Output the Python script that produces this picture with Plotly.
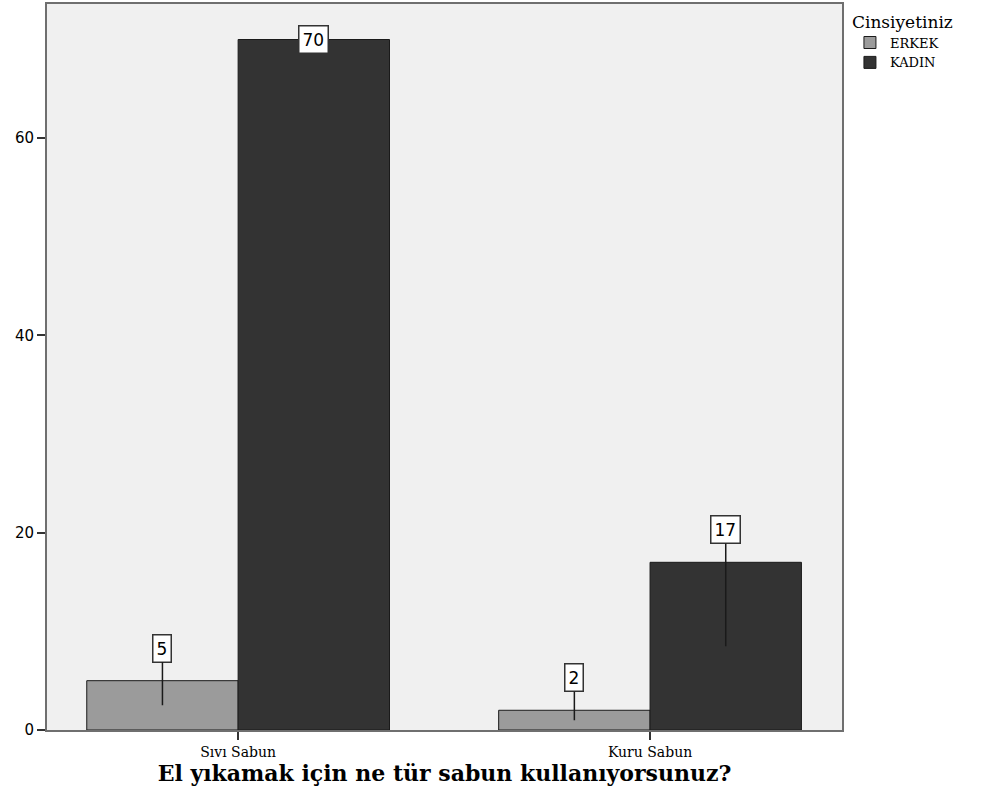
import plotly.graph_objects as go

categories = ["Sıvı Sabun", "Kuru Sabun"]
erkek = [5, 2]
kadin = [70, 17]
series_names = ["ERKEK", "KADIN"]
y_ticks = [0, 20, 40, 60]

colors = ["#9b9b9b", "#333333"]
bargap = 0.265
y_top = 73.6

fig = go.Figure()
for name, vals, col in zip(series_names, [erkek, kadin], colors):
    fig.add_trace(go.Bar(
        x=categories, y=vals, name=name,
        marker=dict(color=col, line=dict(color="#1a1a1a", width=1)),
    ))

# boxed value labels with a leader line down to the middle of each bar
half = (1 - bargap) / 4
for k, vals in enumerate([erkek, kadin]):
    offset = -half if k == 0 else half
    for i, v in enumerate(vals):
        label_y = v + 3.3
        leader = label_y < y_top - 3.6
        if not leader:
            label_y = v  # no room above: sit the box on the bar top
        fig.add_annotation(
            x=i + offset, y=v / 2 if leader else label_y, xref="x", yref="y",
            ax=i + offset, ay=label_y, axref="x", ayref="y",
            text=str(v), showarrow=leader, arrowhead=0, arrowwidth=1.5,
            arrowcolor="#1a1a1a",
            bgcolor="white", bordercolor="#333333", borderwidth=1.5, borderpad=3,
            font=dict(family="DejaVu Sans", size=17, color="black"),
        )

fig.update_layout(
    width=982, height=809,
    margin=dict(l=47, r=140, t=2, b=79),
    paper_bgcolor="white", plot_bgcolor="#f0f0f0",
    barmode="group", bargap=bargap, bargroupgap=0,
    legend=dict(
        x=1.01, y=0.998, xanchor="left", yanchor="top",
        title=dict(text="Cinsiyetiniz", font=dict(family="DejaVu Serif", size=17)),
        font=dict(family="DejaVu Serif", size=13, color="black"),
        itemwidth=30, tracegroupgap=0,
    ),
    showlegend=True,
)
fig.update_xaxes(
    range=[-0.464, 1.466], showline=True, linecolor="#6f6f6f", linewidth=2,
    mirror=True, ticks="outside", ticklen=8, tickcolor="#333333", tickwidth=2,
    tickfont=dict(family="DejaVu Serif", size=14, color="black"),
    title=dict(text="<b>El yıkamak için ne tür sabun kullanıyorsunuz?</b>",
               font=dict(family="DejaVu Serif", size=22, color="black"), standoff=4),
    showgrid=False,
)
fig.update_yaxes(
    range=[0, y_top], tickvals=y_ticks, showline=True, linecolor="#6f6f6f",
    linewidth=2, mirror=True, ticks="outside", ticklen=8, tickcolor="#333333",
    tickwidth=2, tickfont=dict(family="DejaVu Sans", size=15, color="black"),
    showgrid=False, zeroline=False,
)

fig.write_html("out.html", config={"displayModeBar": False},
               post_script="document.body.style.margin='0';")
